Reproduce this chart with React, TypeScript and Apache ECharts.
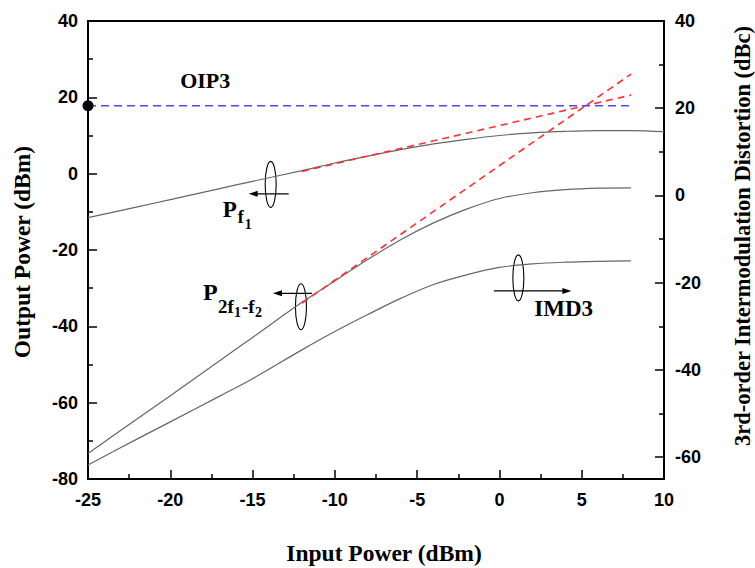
import { useEffect, useRef } from "react";
import * as echarts from "echarts";

// Input power sweep (dBm) shared by the measured curves
const inputPower = [-25, -22, -20, -17, -15, -12, -10, -8, -6, -4, -2, 0, 2, 4, 6, 8];
// Fundamental output is measured one step further
const pf1Input = [-25, -22, -20, -17, -15, -12, -10, -8, -6, -4, -2, 0, 2, 4, 6, 8, 10];
const pf1 = [-11.5, -8.7, -6.8, -3.9, -2.0, 0.8, 2.8, 4.6, 6.3, 7.8, 9.0, 10.0, 10.7, 11.1, 11.3, 11.3, 11.0];
const p2f1f2 = [-73.3, -64.2, -58.2, -49.0, -42.9, -33.7, -28.1, -22.5, -17.3, -12.9, -9.3, -6.5, -5.0, -4.2, -3.8, -3.7];
const imd3 = [-61.8, -55.8, -51.9, -46.0, -42.0, -35.4, -31.2, -27.3, -23.6, -20.4, -18.2, -16.5, -15.7, -15.3, -15.1, -15.0];

// Straight-line extrapolations (slope 1 and slope 3)
const fitInput = [-12, 8];
const fundFit = [0.6, 20.6];
const imFit = [-33.9, 26.1];

// Output third-order intercept
const oip3Input = [-25, 8];
const oip3 = 17.8;

const leftTicks = { min: -80, max: 40, interval: 20 };
const bottomTicks = { min: -25, max: 10, interval: 5 };
const rightRange = { min: -65, max: 40 };
const rightMajor = [40, 20, 0, -20, -40, -60];
const rightMinor = [30, 10, -10, -30, -50];

// Axis titles
const xTitle = "Input Power (dBm)";
const yLeftTitle = "Output Power (dBm)";
const yRightTitle = "3rd-order Intermodulation Distortion (dBc)";

// Annotation anchors in data coordinates
const pf1Tag = [-13.9, -2.8];
const p2Tag = [-12.06, -34.85];
const imdTag = [1.15, -18.9]; // right axis
const oip3Tag = [-19.4, 22.4];

const SERIF = '"Liberation Serif", "Times New Roman", serif';
const SANS = '"Liberation Sans", Arial, sans-serif';

const pairs = (xs: number[], ys: number[]) => xs.map((x, i) => [x, ys[i]]);

function txt(text: string, size: number, x: number, baseline: number) {
  return {
    type: "text",
    style: {
      text,
      x,
      y: baseline - 0.34 * size,
      font: `bold ${size}px ${SERIF}`,
      fill: "#000",
      align: "left",
      verticalAlign: "middle",
    },
  };
}

function title(text: string, size: number, x: number, y: number, rotation = 0) {
  return {
    type: "text",
    x,
    y,
    rotation,
    style: {
      text,
      x: 0,
      y: 0,
      font: `bold ${size}px ${SERIF}`,
      fill: "#000",
      align: "center",
      verticalAlign: "middle",
    },
  };
}

function ellipse(cx: number, cy: number) {
  return {
    type: "ellipse",
    shape: { cx, cy, rx: 5.5, ry: 23 },
    style: { fill: "none", stroke: "#000", lineWidth: 1.1 },
  };
}

function arrow(x1: number, x2: number, y: number) {
  const dir = x2 > x1 ? 1 : -1;
  return [
    {
      type: "line",
      shape: { x1, y1: y, x2: x2 - dir * 6, y2: y },
      style: { stroke: "#000", lineWidth: 1.2 },
    },
    {
      type: "polygon",
      shape: { points: [[x2, y], [x2 - dir * 9, y - 3], [x2 - dir * 9, y + 3]] },
      style: { fill: "#000" },
    },
  ];
}

export default function App() {
  const ref = useRef<HTMLDivElement>(null);

  useEffect(() => {
    if (!ref.current) return;
    const chart = echarts.init(ref.current, null, { renderer: "svg" });

    const tickLabel = { fontFamily: SANS, fontWeight: "bold", fontSize: 18, color: "#000" };
    const axisLine = { show: true, onZero: false, lineStyle: { color: "#000", width: 2 } };
    const grayLine = { color: "#666", width: 1.2 };

    const option: any = {
      animation: false,
      backgroundColor: "#fff",
      grid: {
        left: 88,
        right: 91,
        top: 21,
        bottom: 89,
        containLabel: false,
        outerBoundsMode: "none",
      },
      xAxis: [
        {
          type: "value",
          position: "bottom",
          ...bottomTicks,
          axisLine,
          axisTick: { show: true, inside: true, length: 9, lineStyle: { color: "#000", width: 1.5 } },
          minorTick: { show: true, splitNumber: 2, length: 5, lineStyle: { color: "#000", width: 1.5 } },
          axisLabel: { ...tickLabel, margin: 12 },
          splitLine: { show: false },
        },
        {
          type: "value",
          position: "top",
          ...bottomTicks,
          axisLine,
          axisTick: { show: false },
          axisLabel: { show: false },
          splitLine: { show: false },
        },
      ],
      yAxis: [
        {
          type: "value",
          position: "left",
          ...leftTicks,
          axisLine,
          axisTick: { show: true, inside: true, length: 9, lineStyle: { color: "#000", width: 1.5 } },
          minorTick: { show: true, splitNumber: 2, length: 5, lineStyle: { color: "#000", width: 1.5 } },
          axisLabel: { ...tickLabel, margin: 10 },
          splitLine: { show: false },
        },
        {
          type: "value",
          position: "right",
          ...rightRange,
          axisLine,
          axisTick: {
            show: true,
            inside: true,
            length: 9,
            customValues: rightMajor,
            lineStyle: { color: "#000", width: 1.5 },
          },
          axisLabel: { ...tickLabel, margin: 11, customValues: rightMajor },
          splitLine: { show: false },
        },
        {
          type: "value",
          position: "right",
          ...rightRange,
          axisLine: { show: false, onZero: false },
          axisTick: {
            show: true,
            inside: true,
            length: 5,
            customValues: rightMinor,
            lineStyle: { color: "#000", width: 1.5 },
          },
          axisLabel: { show: false },
          splitLine: { show: false },
        },
      ],
      series: [
        {
          name: "Pf1",
          type: "line",
          data: pairs(pf1Input, pf1),
          smooth: 0.35,
          showSymbol: false,
          lineStyle: grayLine,
          z: 3,
        },
        {
          name: "P2f1-f2",
          type: "line",
          data: pairs(inputPower, p2f1f2),
          smooth: 0.35,
          showSymbol: false,
          lineStyle: grayLine,
          z: 3,
        },
        {
          name: "IMD3",
          type: "line",
          yAxisIndex: 1,
          data: pairs(inputPower, imd3),
          smooth: 0.35,
          showSymbol: false,
          lineStyle: grayLine,
          z: 3,
        },
        {
          name: "Fundamental fit",
          type: "line",
          data: pairs(fitInput, fundFit),
          showSymbol: false,
          lineStyle: { color: "#ff3030", width: 1.6, type: [7, 5] },
          z: 4,
        },
        {
          name: "IM3 fit",
          type: "line",
          data: pairs(fitInput, imFit),
          showSymbol: false,
          lineStyle: { color: "#ff3030", width: 1.6, type: [7, 5] },
          z: 4,
        },
        {
          name: "OIP3",
          type: "line",
          data: oip3Input.map((x) => [x, oip3]),
          showSymbol: false,
          lineStyle: { color: "#4a4aff", width: 1.6, type: [8, 5] },
          z: 4,
        },
        {
          name: "OIP3 point",
          type: "scatter",
          data: [[oip3Input[0], oip3]],
          symbolSize: 11,
          itemStyle: { color: "#000", opacity: 1 },
          clip: false,
          z: 6,
        },
      ],
    };

    chart.setOption(option);

    const toPx = (p: number[], yAxisIndex = 0) =>
      chart.convertToPixel({ xAxisIndex: 0, yAxisIndex }, p) as number[];

    const [ax, ay] = toPx(pf1Tag);
    const [bx, by] = toPx(p2Tag);
    const [cx, cy] = toPx(imdTag, 1);
    const [ox, oy] = toPx(oip3Tag);

    const elements: any[] = [
      // Axis titles
      title(xTitle, 23.5, 384, 553),
      title(yLeftTitle, 23.5, 22, 252, Math.PI / 2),
      title(yRightTitle, 22.5, 742, 236, Math.PI / 2),
      // Pf1 marker
      ellipse(ax, ay),
      ...arrow(ax + 18, ax - 22, ay + 9.5),
      txt("P", 23, ax - 48, ay + 32.5),
      txt("f", 18, ax - 33, ay + 38.5),
      txt("1", 14, ax - 26, ay + 45),
      // P2f1-f2 marker
      ellipse(bx, by),
      ...arrow(bx + 11, bx - 28, by - 13.4),
      txt("P", 24, bx - 98, by - 6.7),
      txt("2f", 19, bx - 83, by + 6.5),
      txt("1", 14, bx - 67, by + 10.5),
      txt("-f", 19, bx - 59, by + 6.5),
      txt("2", 14, bx - 46, by + 10.5),
      // IMD3 marker
      ellipse(cx, cy),
      ...arrow(cx - 24.5, cx + 53, cy + 13),
      txt("IMD3", 23, cx + 16, cy + 38),
      // OIP3 label
      txt("OIP3", 22, ox, oy),
    ];

    chart.setOption({ graphic: { elements } });

    return () => chart.dispose();
  }, []);

  return (
    <div
      ref={ref}
      style={{ position: "fixed", left: 0, top: 0, width: 755, height: 568, background: "#fff" }}
    />
  );
}
